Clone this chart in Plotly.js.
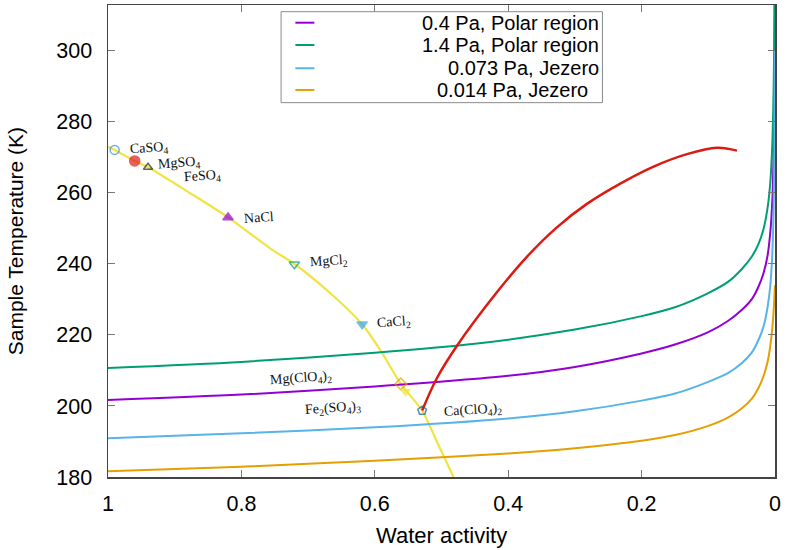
<!DOCTYPE html>
<html>
<head>
<meta charset="utf-8">
<script src="https://cdn.plot.ly/plotly-3.0.1.min.js"></script>
<style>html,body{margin:0;padding:0;background:#fff}#chart{width:786px;height:550px}</style>
</head>
<body>
<div id="chart"></div>
<script>
// ---- data ----
const seriesNames = ["0.4 Pa, Polar region", "1.4 Pa, Polar region", "0.073 Pa, Jezero", "0.014 Pa, Jezero "];

const aw_04 = [1.0, 0.8, 0.6, 0.4, 0.3, 0.2, 0.15, 0.1, 0.07, 0.05, 0.035, 0.025, 0.017, 0.011, 0.007, 0.004, 0.002, 0.0008, 0.0002];
const T_04  = [201.7, 203.2, 205.5, 208.5, 211.0, 214.8, 217.3, 220.8, 224.0, 227.0, 230.0, 233.5, 237.5, 242.5, 249.0, 258.0, 272.0, 295.0, 320.0];

const aw_14 = [1.0, 0.8, 0.6, 0.45, 0.3, 0.2, 0.15, 0.1, 0.07, 0.05, 0.035, 0.025, 0.017, 0.011, 0.007, 0.004, 0.002, 0.0008, 0.0002];
const T_14  = [210.7, 212.4, 215.0, 217.5, 221.5, 225.3, 227.8, 231.8, 235.0, 238.5, 242.0, 245.5, 250.0, 256.0, 263.0, 274.0, 290.0, 310.0, 330.0];

const aw_0073 = [1.0, 0.8, 0.6, 0.4, 0.3, 0.2, 0.15, 0.1, 0.07, 0.05, 0.035, 0.025, 0.017, 0.011, 0.007, 0.004, 0.002, 0.0008, 0.0002];
const T_0073  = [190.9, 192.3, 194.0, 196.5, 198.5, 201.5, 203.5, 206.8, 209.3, 212.0, 215.0, 218.5, 222.5, 228.0, 234.0, 243.0, 256.0, 275.0, 300.0];

const aw_0014 = [1.0, 0.8, 0.6, 0.4, 0.3, 0.2, 0.15, 0.1, 0.07, 0.05, 0.035, 0.025, 0.017, 0.011, 0.007, 0.004, 0.002, 0.0008, 0.0001];
const T_0014  = [181.6, 182.9, 184.6, 186.6, 188.1, 190.2, 191.8, 194.4, 196.8, 199.3, 202.0, 205.0, 208.5, 212.5, 217.0, 222.0, 227.0, 231.0, 234.0];

// eutectic (yellow) curve
const aw_eut = [1.0, 0.99, 0.96, 0.94, 0.88, 0.82, 0.757, 0.72, 0.667, 0.619, 0.589, 0.561, 0.529, 0.507, 0.482];
const T_eut  = [273.0, 272.1, 269.0, 267.2, 260.3, 253.1, 244.4, 239.9, 231.8, 223.0, 214.9, 206.2, 198.7, 190.0, 180.0];

// red curve
const aw_red = [0.529, 0.507, 0.477, 0.417, 0.372, 0.327, 0.282, 0.232, 0.182, 0.132, 0.087, 0.057];
const T_red  = [198.7, 207.8, 216.9, 232.0, 242.0, 250.3, 256.9, 262.6, 267.4, 270.9, 272.7, 271.9];

// salt points
const saltNames = ["CaSO<sub>4</sub>", "FeSO<sub>4</sub>", "MgSO<sub>4</sub>", "NaCl", "MgCl<sub>2</sub>", "CaCl<sub>2</sub>",
                   "Mg(ClO<sub>4</sub>)<sub>2</sub>", "Fe<sub>2</sub>(SO<sub>4</sub>)<sub>3</sub>", "Ca(ClO<sub>4</sub>)<sub>2</sub>"];
const saltAw = [0.990, 0.960, 0.940, 0.820, 0.7206, 0.619, 0.561, 0.554, 0.529];
const saltT  = [272.1, 269.0, 267.2, 253.1, 239.9, 223.0, 206.2, 204.1, 198.7];

const xTickVals = [1, 0.8, 0.6, 0.4, 0.2, 0];
const xTickText = ["1", "0.8", "0.6", "0.4", "0.2", "0"];
const yTickVals = [180, 200, 220, 240, 260, 280, 300];

// ---- styles ----
const seriesColors = ["#9400D3", "#009E73", "#56B4E9", "#E69F00"];
const saltSymbols = ["circle-open", "circle", "triangle-up-open", "triangle-up", "triangle-down-open", "triangle-down",
                     "diamond-open", "triangle-down", "pentagon-open"];
const saltColors = ["#2f8fd6", "#e01b1b", "#222222", "#9400D3", "#009E73", "#3aa6e0", "#E69F00", "#F0E442", "#0a5f9e"];
const saltSizes = [9, 10, 8, 9, 9, 9, 9, 8, 9];
const labelAnchor = ["left", "left", "left", "left", "left", "left", "right", "right", "left"];
const labelShiftX = [13, 47, 7, 13, 13, 12.6, -65.7, -41.7, 19];
const labelShiftY = [1.5, -16, 4, 0, 2.6, 1.6, 5.7, -16.6, 0];

const traces = [];
traces.push({x: aw_eut, y: T_eut, mode: "lines", line: {color: "#F0E442", width: 2.2, shape: "spline", smoothing: 0.8}, showlegend: false, hoverinfo: "skip"});
const sx = [aw_04, aw_14, aw_0073, aw_0014];
const sy = [T_04, T_14, T_0073, T_0014];
for (let i = 0; i < 4; i++) {
  traces.push({x: sx[i], y: sy[i], mode: "lines", name: seriesNames[i],
    line: {color: seriesColors[i], width: 2, shape: "spline", smoothing: 0.8}, showlegend: false});
}
traces.push({x: aw_red, y: T_red, mode: "lines", line: {color: "#dd1a10", width: 2.5, shape: "spline", smoothing: 1}, showlegend: false});
traces.push({x: saltAw, y: saltT, mode: "markers", showlegend: false,
  marker: {symbol: saltSymbols, color: saltColors, size: saltSizes, line: {color: saltColors, width: 1.5}}});

const annotations = [];
for (let i = 0; i < saltNames.length; i++) {
  annotations.push({x: saltAw[i], y: saltT[i], xref: "x", yref: "y", text: saltNames[i], showarrow: false,
    xanchor: labelAnchor[i], yanchor: "middle", xshift: labelShiftX[i], yshift: labelShiftY[i], textangle: -4,
    font: {family: "Liberation Serif", size: 14, color: "#111"}});
}
// custom legend (right aligned text like the reference)
const shapes = [{type: "rect", xref: "paper", yref: "paper", x0: 0.2595, x1: 0.7413, y0: 0.7931, y1: 0.9858,
  line: {color: "#8a8a8a", width: 1}, fillcolor: "rgba(255,255,255,1)", layer: "above"}];
const legRowY = [0.9625, 0.9153, 0.866, 0.820];
const legTextX = [0.7393, 0.7393, 0.7393, 0.7393];
for (let i = 0; i < 4; i++) {
  shapes.push({type: "line", xref: "paper", yref: "paper", x0: 0.2809, x1: 0.3094, y0: legRowY[i], y1: legRowY[i],
    line: {color: seriesColors[i], width: 2}, layer: "above"});
  annotations.push({xref: "paper", yref: "paper", x: legTextX[i], y: legRowY[i], text: seriesNames[i].replace(/ $/, "\u00a0\u00a0"),
    showarrow: false, xanchor: "right", yanchor: "middle", font: {family: "Liberation Sans", size: 20, color: "#000"}});
}
// axis titles
annotations.push({xref: "paper", yref: "paper", x: 0.5, y: -0.124, text: "Water activity", showarrow: false,
  xanchor: "center", yanchor: "middle", font: {family: "Liberation Sans", size: 22, color: "#000"}});
annotations.push({xref: "paper", yref: "paper", x: -0.139, y: 0.5, text: "Sample Temperature (K)", showarrow: false,
  textangle: -90, xanchor: "center", yanchor: "middle", font: {family: "Liberation Sans", size: 21, color: "#000"}});

const axisCommon = {showline: true, linecolor: "#444", linewidth: 1.5, mirror: "allticks", ticks: "inside",
  ticklen: 7, tickwidth: 1, tickcolor: "#777", showgrid: false, zeroline: false,
  tickfont: {family: "Liberation Sans", size: 21.5, color: "#000"}};

const layout = {
  width: 786, height: 550,
  margin: {l: 108, r: 11, t: 5, b: 73},
  paper_bgcolor: "#fff", plot_bgcolor: "#fff",
  showlegend: false,
  xaxis: Object.assign({}, axisCommon, {range: [1, 0], tickvals: xTickVals, ticktext: xTickText, ticklabelstandoff: 7}),
  yaxis: Object.assign({}, axisCommon, {range: [180, 312.9], tickvals: yTickVals, ticklabelstandoff: 10}),
  shapes: shapes,
  annotations: annotations
};

Plotly.newPlot("chart", traces, layout, {staticPlot: true, displayModeBar: false});
</script>
</body>
</html>
